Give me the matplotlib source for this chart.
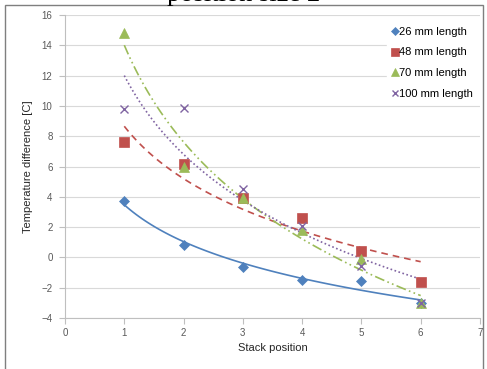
import numpy as np
import matplotlib.pyplot as plt
from matplotlib.patches import Rectangle

positions = [1, 2, 3, 4, 5, 6]
len_26 = [3.7, 0.8, -0.65, -1.5, -1.55, -3.0]
len_48 = [7.6, 6.2, 3.9, 2.6, 0.45, -1.6]
len_70 = [14.8, 6.0, 3.9, 1.8, -0.1, -3.0]
len_100 = [9.8, 9.85, 4.5, 2.1, -0.55, -3.0]
labels = ['26 mm length', '48 mm length', '70 mm length', '100 mm length']

plt.rcParams['font.family'] = ['Liberation Sans', 'DejaVu Sans']


def log_trend(x, y):
    # Excel-style logarithmic trendline: y = a*ln(x) + b
    a, b = np.polyfit(np.log(x), y, 1)
    xs = np.linspace(min(x), max(x), 100)
    return xs, a * np.log(xs) + b


def main():
    fig = plt.figure(figsize=(4.87, 3.69), dpi=100)
    ax = fig.add_axes([0.1335, 0.138, 0.852, 0.821])

    series = [
        (len_26, '#4F81BD', 'D', 5, '-'),
        (len_48, '#C0504D', 's', 7, (0, (4, 3))),
        (len_70, '#9BBB59', '^', 7, (0, (6, 2, 1, 2, 1, 2))),
        (len_100, '#8064A2', 'x', 6, (0, (1, 1.5))),
    ]
    handles = []
    for (vals, color, marker, ms, ls), label in zip(series, labels):
        h = ax.plot(positions, vals, linestyle='none', marker=marker, color=color,
                    markersize=ms, markeredgewidth=1.0 if marker == 'x' else 0.5,
                    label=label, zorder=3)[0]
        handles.append(h)
        xs, ys = log_trend(positions, vals)
        ax.plot(xs, ys, color=color, linestyle=ls, linewidth=1.2, zorder=2)

    ax.set_xlim(0, 7)
    ax.set_ylim(-4, 16)
    ax.set_xticks(range(0, 8))
    ax.set_yticks(range(-4, 17, 2))
    ax.yaxis.grid(True, color='#d9d9d9', linewidth=0.8)
    ax.set_axisbelow(True)
    for side in ('top', 'right'):
        ax.spines[side].set_visible(False)
    for side in ('left', 'bottom'):
        ax.spines[side].set_color('#bfbfbf')
    ax.tick_params(colors='#bfbfbf', labelcolor='#595959', labelsize=7, length=4)
    ax.tick_params(axis='y', pad=5)
    ax.set_xlabel('Stack position', fontsize=8, color='#262626', labelpad=3)
    ax.set_ylabel('Temperature difference [C]', fontsize=8, color='#262626', labelpad=6)

    leg = ax.legend(handles=handles, loc='upper right', bbox_to_anchor=(1.01, 0.998),
                    frameon=True, fontsize=8, handlelength=0.5, handletextpad=0.1,
                    labelspacing=0.95, borderpad=0.5, markerscale=0.8)
    leg.get_frame().set_edgecolor('white')
    leg.get_frame().set_facecolor('white')
    leg.get_frame().set_alpha(1)

    # chart border and clipped title above it
    fig.patches.append(Rectangle((5 / 487, -0.05), 478 / 487, 1 - 5 / 369 + 0.05,
                                 transform=fig.transFigure, fill=False,
                                 edgecolor='#7f7f7f', linewidth=1.0))
    fig.text(0.5, 1 - 1 / 369, 'position size 2', ha='center', va='baseline',
             fontsize=19, family=['Liberation Serif', 'DejaVu Serif'], color='black')

    fig.savefig('out.png', dpi=100)


if __name__ == '__main__':
    main()
